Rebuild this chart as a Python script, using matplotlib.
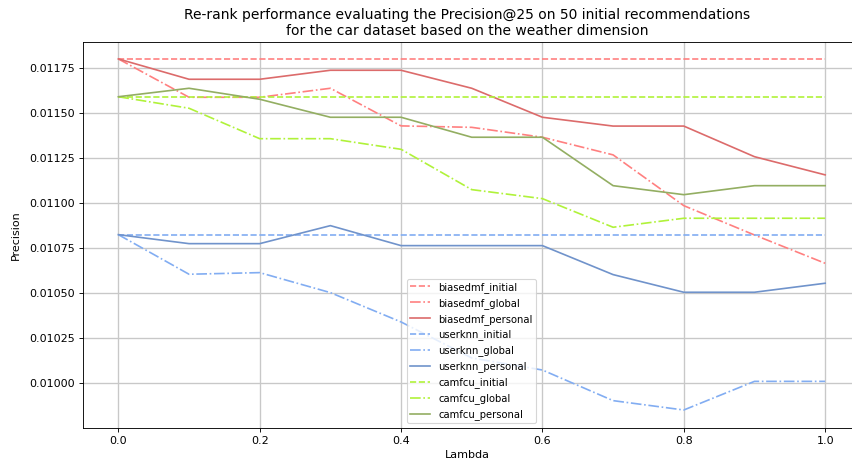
import numpy as np
import matplotlib
matplotlib.use('Agg')
import matplotlib.pyplot as plt
from matplotlib.ticker import FormatStrFormatter

# lambda values for the re-ranking sweep
lambdas = [0.0, 0.1, 0.2, 0.3, 0.4, 0.5, 0.6, 0.7, 0.8, 0.9, 1.0]

# Precision@25 per model and re-ranking strategy
biasedmf_initial = [0.01180] * 11
biasedmf_global = [0.01180, 0.011587, 0.011587, 0.011637, 0.011428, 0.011420,
                   0.011365, 0.011267, 0.010985, 0.010822, 0.010665]
biasedmf_personal = [0.01180, 0.011687, 0.011687, 0.011737, 0.011737, 0.011637,
                     0.011476, 0.011427, 0.011427, 0.011257, 0.011156]

userknn_initial = [0.010824] * 11
userknn_global = [0.010824, 0.010604, 0.010613, 0.010502, 0.010339, 0.010139,
                  0.010072, 0.009902, 0.009850, 0.010009, 0.010009]
userknn_personal = [0.010824, 0.010774, 0.010774, 0.010874, 0.010763, 0.010763,
                    0.010763, 0.010602, 0.010504, 0.010504, 0.010554]

camfcu_initial = [0.01159] * 11
camfcu_global = [0.01159, 0.011526, 0.011357, 0.011357, 0.011298, 0.011074,
                 0.011024, 0.010865, 0.010915, 0.010915, 0.010915]
camfcu_personal = [0.01159, 0.011637, 0.011576, 0.011476, 0.011476, 0.011365,
                   0.011365, 0.011096, 0.011046, 0.011096, 0.011096]

series = [
    ('biasedmf_initial', biasedmf_initial, '--', '#ff8080'),
    ('biasedmf_global', biasedmf_global, '-.', '#ff8080'),
    ('biasedmf_personal', biasedmf_personal, '-', '#dc6b6b'),
    ('userknn_initial', userknn_initial, '--', '#82adf2'),
    ('userknn_global', userknn_global, '-.', '#82adf2'),
    ('userknn_personal', userknn_personal, '-', '#7093cb'),
    ('camfcu_initial', camfcu_initial, '--', '#b0f23a'),
    ('camfcu_global', camfcu_global, '-.', '#b0f23a'),
    ('camfcu_personal', camfcu_personal, '-', '#93ae62'),
]

fig = plt.figure(figsize=(852 / 80, 465 / 80), dpi=80)
ax = fig.add_axes([83 / 852, 37 / 465, 769 / 852, 386 / 465])

for name, values, style, color in series:
    ax.plot(lambdas, values, linestyle=style, color=color, label=name)

ax.set_xlim(-0.05, 1.038)
ax.set_ylim(0.00975, 0.011894)
ax.set_xticks([0.0, 0.2, 0.4, 0.6, 0.8, 1.0])
ax.set_yticks(np.arange(0.0100, 0.0118, 0.00025))
ax.yaxis.set_major_formatter(FormatStrFormatter('%.5f'))
ax.grid(True, color='#c8c8c8', linewidth=1.2)

ax.set_xlabel('Lambda')
ax.set_ylabel('Precision', labelpad=8)
ax.set_title('Re-rank performance evaluating the Precision@25 on 50 initial recommendations\n'
             'for the car dataset based on the weather dimension', fontsize=12.5)
ax.legend(loc='lower center', bbox_to_anchor=(0.505, 0.0), fontsize=9,
          borderpad=0.3, labelspacing=0.5, handlelength=2.0)

fig.savefig('out.png', dpi=80)
